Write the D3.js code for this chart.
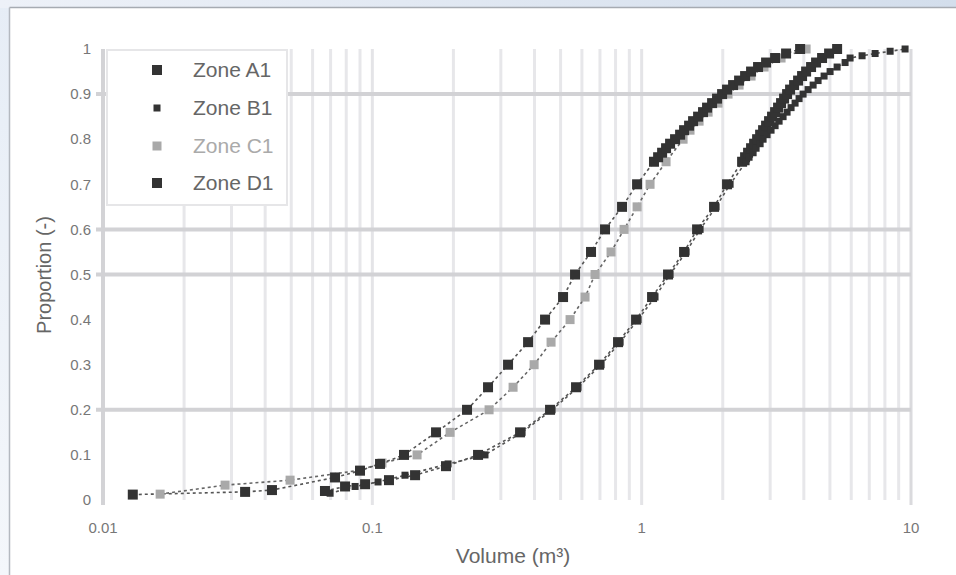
<!DOCTYPE html>
<html><head><meta charset="utf-8">
<script src="https://cdn.jsdelivr.net/npm/d3@7"></script>
<style>html,body{margin:0;padding:0;background:#fff;overflow:hidden}svg{display:block}</style>
</head><body>
<svg id="c" width="956" height="575"></svg>
<script>
// ---------- data ----------
const seriesNames = ["Zone A1", "Zone B1", "Zone C1", "Zone D1"];

const a1X = [0.0667,0.0792,0.094,0.1153,0.1441,0.1877,0.2469,0.3536,0.4569,0.5706,0.6947,0.8172,0.9533,1.093,1.253,1.437,1.606,1.857,2.075,2.36,
  2.421,2.484,2.548,2.615,2.683,2.753,2.824,2.897,2.972,3.049,3.129,3.210,3.293,3.379,3.467,3.557,3.681,3.809,3.941,4.079,4.256,4.442,4.676,4.965,5.317];
const a1Y = [0.02,0.03,0.035,0.044,0.055,0.075,0.1,0.15,0.2,0.25,0.3,0.35,0.4,0.45,0.5,0.55,0.6,0.65,0.7,0.75,
  0.76,0.77,0.78,0.79,0.80,0.81,0.82,0.83,0.84,0.85,0.86,0.87,0.88,0.89,0.90,0.91,0.92,0.93,0.94,0.95,0.96,0.97,0.98,0.99,1.0];

const b1X = [0.0697,0.0863,0.105,0.1322,0.1911,0.262,0.3597,0.4648,0.5803,0.7068,0.8317,0.9697,1.121,1.275,1.462,1.648,1.889,2.13,2.442,
  2.505,2.593,2.660,2.753,2.824,2.922,3.023,3.129,3.238,3.350,3.467,3.587,3.712,3.841,3.975,4.149,4.331,4.519,4.757,5.007,5.317,5.692,5.941,
  6.582,7.358,8.366,9.507];
const b1Y = [0.015,0.03,0.04,0.055,0.08,0.1,0.15,0.2,0.25,0.3,0.35,0.4,0.45,0.5,0.55,0.6,0.65,0.7,0.75,
  0.76,0.77,0.78,0.79,0.80,0.81,0.82,0.83,0.84,0.85,0.86,0.87,0.88,0.89,0.90,0.91,0.92,0.93,0.94,0.95,0.96,0.97,0.98,
  0.985,0.99,0.995,1.0];

const c1X = [0.0163,0.0284,0.0495,0.09,0.1086,0.1466,0.1944,0.2713,0.3331,0.3987,0.4609,0.5422,0.6163,0.6713,0.7696,0.8603,0.9616,1.0745,1.232,
  1.425,1.512,1.634,1.765,1.921,2.093,2.300,2.548,2.848,3.293,4.079];
const c1Y = [0.013,0.033,0.044,0.066,0.082,0.1,0.15,0.2,0.25,0.3,0.35,0.4,0.45,0.5,0.55,0.6,0.65,0.7,0.75,
  0.8,0.82,0.84,0.86,0.88,0.9,0.92,0.94,0.96,0.98,1.0];

const d1X = [0.0129,0.0337,0.0424,0.0727,0.09,0.1068,0.1311,0.1724,0.2247,0.2689,0.3191,0.3787,0.4378,0.5107,0.5658,0.6486,0.7311,0.8456,0.9616,1.111,
  1.151,1.191,1.232,1.275,1.3305,1.389,1.437,1.500,1.552,1.620,1.690,1.749,1.826,1.905,1.989,2.075,2.185,2.300,2.421,2.548,2.705,2.897,3.129,3.437,3.875];
const d1Y = [0.012,0.018,0.022,0.05,0.065,0.08,0.1,0.15,0.2,0.25,0.3,0.35,0.4,0.45,0.5,0.55,0.6,0.65,0.7,0.75,
  0.76,0.77,0.78,0.79,0.80,0.81,0.82,0.83,0.84,0.85,0.86,0.87,0.88,0.89,0.90,0.91,0.92,0.93,0.94,0.95,0.96,0.97,0.98,0.99,1.0];

const xTickValues = [0.01, 0.1, 1, 10];
const xTickLabels = ["0.01", "0.1", "1", "10"];
const yTickValues = [0,0.1,0.2,0.3,0.4,0.5,0.6,0.7,0.8,0.9,1];
const yTickLabels = ["0","0.1","0.2","0.3","0.4","0.5","0.6","0.7","0.8","0.9","1"];
const yGridValues = [0.2, 0.5, 0.6, 0.9];
const xMinorValues = [0.02,0.03,0.04,0.05,0.06,0.07,0.08,0.09,0.2,0.3,0.4,0.5,0.6,0.7,0.8,0.9,2,3,4,5,6,7,8,9];

const xTitle = "Volume (m³)";
const yTitle = "Proportion (-)";

// ---------- layout ----------
const svg = d3.select("#c");
const L = 103, R = 911, T = 49, B = 500;
const x = d3.scaleLog().domain([0.01, 10]).range([L, R]);
const y = d3.scaleLinear().domain([0, 1]).range([B, T]);
const FONT = "Liberation Sans, Arial, sans-serif";

// frame background
const defs = svg.append("defs");
const g1 = defs.append("linearGradient").attr("id","topg").attr("x1","0").attr("x2","1").attr("y1","0").attr("y2","0");
g1.append("stop").attr("offset","0").attr("stop-color","#edf1f8");
g1.append("stop").attr("offset","1").attr("stop-color","#d3deec");
const g2 = defs.append("linearGradient").attr("id","leftg").attr("x1","0").attr("x2","0").attr("y1","0").attr("y2","1");
g2.append("stop").attr("offset","0").attr("stop-color","#e6edf6");
g2.append("stop").attr("offset","1").attr("stop-color","#f4f7fb");
svg.append("rect").attr("x",0).attr("y",0).attr("width",956).attr("height",575).attr("fill","url(#leftg)");
svg.append("rect").attr("x",0).attr("y",0).attr("width",956).attr("height",8).attr("fill","url(#topg)");
svg.append("rect").attr("x",10).attr("y",8).attr("width",946).attr("height",567).attr("fill","#fff");
svg.append("line").attr("x1",9.5).attr("x2",956).attr("y1",7.5).attr("y2",7.5).attr("stroke","#a6abb2").attr("stroke-width",1.5);
svg.append("line").attr("x1",9.5).attr("x2",9.5).attr("y1",7.5).attr("y2",575).attr("stroke","#b4b9c0").attr("stroke-width",1.5);

// vertical minor gridlines
svg.append("g").selectAll("line").data(xMinorValues).join("line")
  .attr("x1", d => x(d)).attr("x2", d => x(d)).attr("y1", T).attr("y2", B)
  .attr("stroke", "#e7e7ea").attr("stroke-width", 3);
// major vertical lines (with tick extension)
svg.append("g").selectAll("line").data(xTickValues).join("line")
  .attr("x1", d => x(d)).attr("x2", d => x(d)).attr("y1", T).attr("y2", B + 5)
  .attr("stroke", d => d === 0.01 ? "#d3d3d6" : (d === 10 ? "#dadadd" : "#e4e4e7"))
  .attr("stroke-width", d => d === 0.01 ? 4 : 3);
// horizontal gridlines
svg.append("g").selectAll("line").data(yGridValues).join("line")
  .attr("x1", L - 7).attr("x2", R).attr("y1", d => y(d)).attr("y2", d => y(d))
  .attr("stroke", "#d2d2d5").attr("stroke-width", 4);

// tick labels
svg.append("g").selectAll("text").data(yTickValues).join("text")
  .attr("x", 91).attr("y", d => y(d)).attr("dy", "0.35em").attr("text-anchor", "end")
  .attr("font-family", FONT).attr("font-size", 15).attr("fill", "#777")
  .text((d, i) => yTickLabels[i]);
svg.append("g").selectAll("text").data(xTickValues).join("text")
  .attr("x", d => x(d)).attr("y", 528).attr("dy", "0.35em").attr("text-anchor", "middle")
  .attr("font-family", FONT).attr("font-size", 15).attr("fill", "#777")
  .text((d, i) => xTickLabels[i]);

// axis titles
svg.append("text").attr("x", 513).attr("y", 556).attr("dy", "0.35em").attr("text-anchor", "middle")
  .attr("font-family", FONT).attr("font-size", 21).attr("fill", "#666")
  .text(xTitle);
svg.append("text").attr("transform", "translate(44,275) rotate(-90)").attr("dy", "0.35em").attr("text-anchor", "middle")
  .attr("font-family", FONT).attr("font-size", 20).attr("fill", "#666")
  .text(yTitle);

// series
const series = [
  {name: seriesNames[0], xs: a1X, ys: a1Y, fill: "#333", size: 10, line: "#555"},
  {name: seriesNames[1], xs: b1X, ys: b1Y, fill: "#333", size: 7,  line: "#555"},
  {name: seriesNames[2], xs: c1X, ys: c1Y, fill: "#a9a9a9", size: 9, line: "#666"},
  {name: seriesNames[3], xs: d1X, ys: d1Y, fill: "#333", size: 10, line: "#555"}
];
const lineGen = d3.line().x(d => x(d[0])).y(d => y(d[1]));
series.forEach(s => {
  const pts = s.xs.map((v, i) => [v, s.ys[i]]);
  svg.append("path").datum(pts).attr("d", lineGen).attr("fill", "none")
    .attr("stroke", s.line).attr("stroke-width", 1.6).attr("stroke-dasharray", "3,3");
});
[series[2], series[0], series[3], series[1]].forEach(s => {
  const pts = s.xs.map((v, i) => [v, s.ys[i]]);
  svg.append("g").selectAll("rect").data(pts).join("rect")
    .attr("x", d => x(d[0]) - s.size / 2).attr("y", d => y(d[1]) - s.size / 2)
    .attr("width", s.size).attr("height", s.size).attr("fill", s.fill);
});

// legend
const lg = svg.append("g");
lg.append("rect").attr("x", 107).attr("y", 50).attr("width", 180).attr("height", 155)
  .attr("fill", "#fff").attr("stroke", "#e6e6e8").attr("stroke-width", 2);
const legY = [70, 108, 146, 183];
series.forEach((s, i) => {
  lg.append("rect").attr("x", 157 - s.size / 2).attr("y", legY[i] - s.size / 2)
    .attr("width", s.size).attr("height", s.size).attr("fill", s.fill);
  lg.append("text").attr("x", 193).attr("y", legY[i]).attr("dy", "0.35em")
    .attr("font-family", FONT).attr("font-size", 21)
    .attr("fill", i === 2 ? "#aaa" : "#666").text(s.name);
});
</script>
</body></html>
